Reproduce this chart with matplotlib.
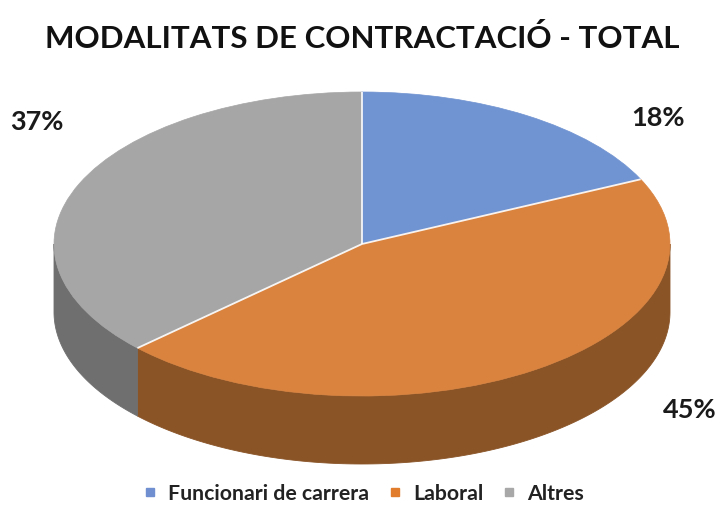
import numpy as np
import matplotlib
matplotlib.use("Agg")
import matplotlib.pyplot as plt
from matplotlib.patches import Wedge, Polygon
from matplotlib.transforms import Affine2D

# Data
categories = ["Funcionari de carrera", "Laboral", "Altres"]
shares = [18, 45, 37]
value_labels = ["18%", "45%", "37%"]

# Styling
top_colors = ["#7093d1", "#d9833f", "#a6a6a6"]
side_colors = ["#4a6396", "#8a5427", "#6f6f6f"]
legend_colors = ["#6f8fd0", "#e07c2c", "#a8a8a8"]
plt.rcParams["font.family"] = ["Lato", "DejaVu Sans"]

W, H = 719, 506
fig = plt.figure(figsize=(W / 100, H / 100), dpi=100)
ax = fig.add_axes([0, 0, 1, 1])
ax.set_xlim(0, W)
ax.set_ylim(H, 0)
ax.axis("off")

# Pie geometry in pixel space (oblique view of a cylinder)
cx, cy = 362, 245
rx, ry = 308, 152
depth = 68


def rim(theta_deg, drop=0.0):
    t = np.radians(theta_deg)
    return cx + rx * np.cos(t), cy - ry * np.sin(t) + drop


# Slice boundaries: start at 12 o'clock, go clockwise
fractions = np.array(shares, dtype=float) / np.sum(shares)
cum = np.concatenate([[0.0], np.cumsum(fractions)])
starts = 90 - 360 * cum[:-1]
ends = 90 - 360 * cum[1:]

# Side walls: only the front half (sin < 0) of each slice is visible
for a0, a1, col in zip(starts, ends, side_colors):
    lo, hi = a1, a0
    for k in range(-2, 3):
        f_lo, f_hi = -180 + 360 * k, 0 + 360 * k
        s_lo, s_hi = max(lo, f_lo), min(hi, f_hi)
        if s_hi - s_lo <= 0:
            continue
        th = np.linspace(s_lo, s_hi, 200)
        xt, yt = rim(th)
        xb, yb = rim(th[::-1], depth)
        pts = np.column_stack([np.concatenate([xt, xb]), np.concatenate([yt, yb])])
        ax.add_patch(Polygon(pts, closed=True, facecolor=col, edgecolor=col,
                             linewidth=0.6, zorder=1))

# Top face
top_tf = Affine2D().scale(rx, -ry).translate(cx, cy) + ax.transData
for a0, a1, col in zip(starts, ends, top_colors):
    w = Wedge((0, 0), 1.0, a1, a0, facecolor=col, edgecolor=col,
              linewidth=0.5, transform=top_tf, zorder=2)
    ax.add_patch(w)

# Thin light separators between slices on the top face
for a in starts:
    ex, ey = rim(a)
    ax.plot([cx, ex], [cy, ey], color="white", linewidth=1.3, alpha=0.9,
            solid_capstyle="butt", zorder=3)

# Title
ax.text(362, 38, "MODALITATS DE CONTRACTACIÓ - TOTAL", ha="center", va="center",
        fontsize=22.5, fontweight="bold", color="#111111")

# Value labels
label_pos = [(658, 118), (690, 410), (37, 122)]
for (lx, ly), txt in zip(label_pos, value_labels):
    ax.text(lx, ly, txt, ha="center", va="center", fontsize=19.5,
            fontweight="bold", color="#1a1a1a")

# Legend
handles = [plt.Line2D([], [], marker="s", linestyle="none", markersize=6,
                      markerfacecolor=c, markeredgecolor=c) for c in legend_colors]
fig.legend(handles, categories, loc="center", bbox_to_anchor=(0.506, 1 - 494 / H),
           ncol=3, frameon=False, handlelength=0.6, handletextpad=0.55,
           columnspacing=0.9, prop={"size": 15.3, "weight": "bold"},
           labelcolor="#222222")

fig.savefig("out.png", dpi=100)
